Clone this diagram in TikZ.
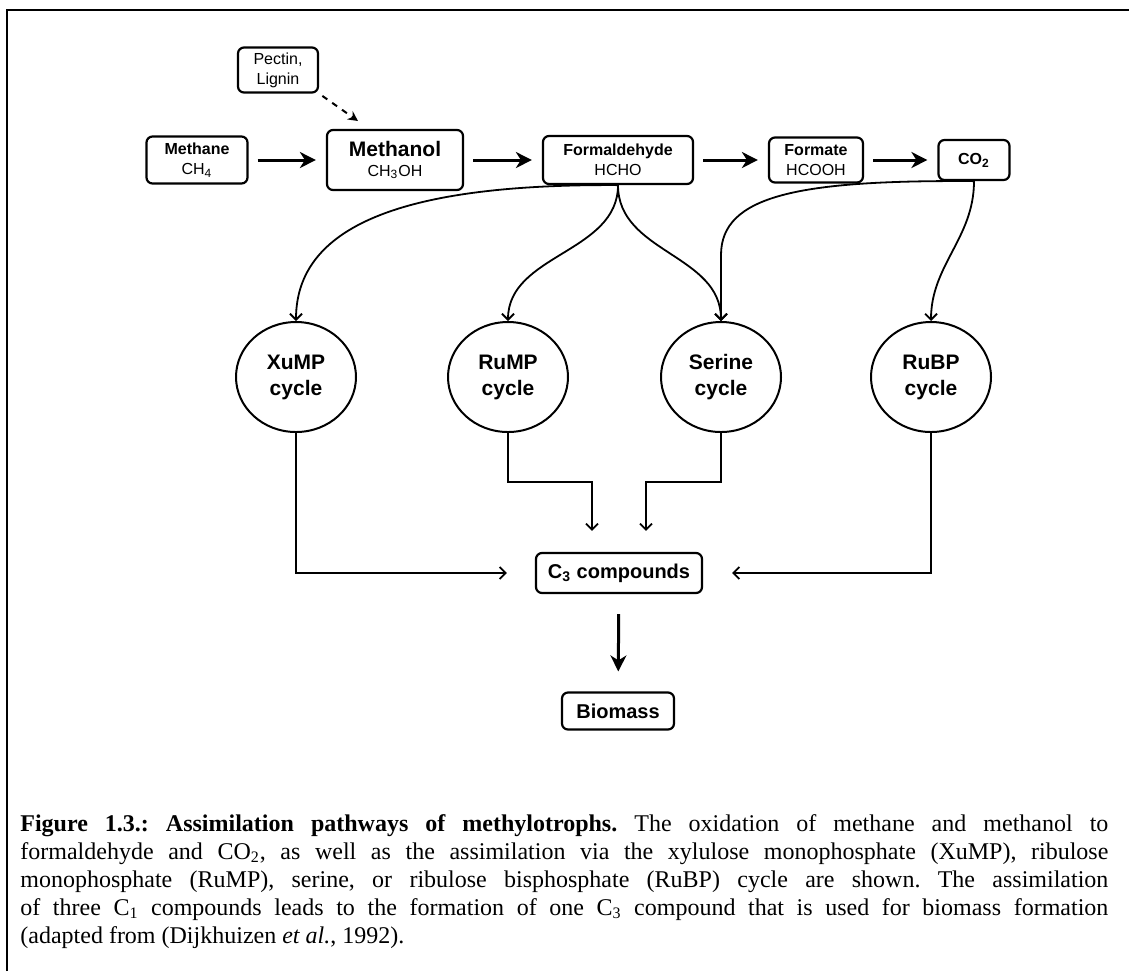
\documentclass[tikz,border=0pt]{standalone}
\usepackage{fontspec}
\setmainfont{Liberation Serif}
\setsansfont{Liberation Sans}
\usetikzlibrary{arrows.meta,shapes.geometric}

\begin{document}
\begin{tikzpicture}[x=0.5pt,y=-0.5pt,
    box/.style={draw,rounded corners=3pt,line width=1.1pt,align=center,inner sep=0pt,
        font=\sffamily\fontsize{8}{10}\selectfont},
    cyc/.style={draw,ellipse,line width=1pt,minimum width=60pt,minimum height=55pt,
        inner sep=0pt,align=center,font=\sffamily\bfseries\fontsize{10.5}{13}\selectfont},
    bigarrow/.style={line width=1.5pt,-{Stealth[length=8pt,width=8pt,inset=2.5pt]},
        shorten <=4.5pt,shorten >=5pt},
    thinarrow/.style={line width=0.9pt,-{Straight Barb[length=3pt,width=6pt]}},
    dasharrow/.style={line width=1pt,dashed,-{Stealth[length=5pt,width=5pt]}}]
    \useasboundingbox (0,0) rectangle (1129,971);

    % frame
    \draw[line width=1pt] (7,971) -- (7,10) -- (1129,10);

    % C1 compounds
    \node[box,minimum width=40pt,minimum height=22.5pt] (pectin) at (278,70) {Pectin,\\Lignin};
    \node[box,minimum width=50.5pt,minimum height=23.5pt] (methane) at (197,160) {\textbf{Methane}\\CH\textsubscript{4}};
    \node[box,minimum width=68pt,minimum height=30pt] (methanol) at (395,160)
        {{\fontsize{10.5}{12}\selectfont\bfseries Methanol}\\CH\textsubscript{3}OH};
    \node[box,minimum width=75pt,minimum height=24pt] (formald) at (618,160) {\textbf{Formaldehyde}\\HCHO};
    \node[box,minimum width=47pt,minimum height=22.5pt] (formate) at (816,160) {\textbf{Formate}\\HCOOH};
    \node[box,minimum width=35.5pt,minimum height=20pt] (co2) at (974,160) {\textbf{CO\textsubscript{2}}};
    \coordinate (pl) at (358,121);

    \draw[bigarrow] (methane) -- (methanol);
    \draw[bigarrow] (methanol) -- (formald);
    \draw[bigarrow] (formald) -- (formate);
    \draw[bigarrow] (formate) -- (co2);
    \draw[dasharrow,shorten <=2pt] (pectin.south east) -- (pl);

    % cycles
    \node[cyc] (xump) at (296,377) {XuMP\\cycle};
    \node[cyc] (rump) at (508,377) {RuMP\\cycle};
    \node[cyc] (serine) at (721,377) {Serine\\cycle};
    \node[cyc] (rubp) at (931,377) {RuBP\\cycle};
    \coordinate (sv) at (721,255);

    \draw[thinarrow] (formald.south) .. controls (430,184) and (296,215) .. (xump.north);
    \draw[thinarrow] (formald.south) .. controls (618,253) and (508,254) .. (rump.north);
    \draw[thinarrow] (formald.south) .. controls (618,253) and (721,254) .. (serine.north);
    \draw[thinarrow] (co2.south) .. controls (800,180) and (721,195) .. (sv) -- (serine.north);
    \draw[thinarrow] (co2.south) .. controls (974,238) and (931,265) .. (rubp.north);

    % C3 and biomass
    \node[box,minimum width=83pt,minimum height=20pt,font=\sffamily\bfseries\fontsize{10}{12}\selectfont]
        (c3) at (619,573) {C\textsubscript{3} compounds};
    \node[box,minimum width=56pt,minimum height=18.5pt,font=\sffamily\bfseries\fontsize{10}{12}\selectfont]
        (biomass) at (618,711) {Biomass};
    \coordinate (jr) at (592,482);
    \coordinate (js) at (646,482);

    \draw[thinarrow,shorten >=14pt] (xump.south) |- (c3.west);
    \draw[thinarrow,shorten >=14.5pt] (rubp.south) |- (c3.east);
    \draw[thinarrow,shorten >=10.5pt] (rump.south) |- (jr) -- ([xshift=-13.5pt]c3.north);
    \draw[thinarrow,shorten >=10.5pt] (serine.south) |- (js) -- ([xshift=13.5pt]c3.north);
    \draw[bigarrow,shorten <=10pt,shorten >=10pt] (c3) -- (biomass);

    % caption
    \node[anchor=north west,inner sep=0pt,text width=544pt,align=justify,
        font=\fontsize{12}{14}\selectfont\frenchspacing] (caption) at (20,814)
        {\textbf{Figure 1.3.: Assimilation pathways of methylotrophs.} The oxidation of methane and methanol to\linebreak
        formaldehyde and CO\textsubscript{2}, as well as the assimilation via the xylulose monophosphate (XuMP), ribulose\linebreak
        monophosphate (RuMP), serine, or ribulose bisphosphate (RuBP) cycle are shown. The assimilation\linebreak
        of three C\textsubscript{1} compounds leads to the formation of one C\textsubscript{3} compound that is used for biomass formation\linebreak
        (adapted from (Dijkhuizen \textit{et al.}, 1992).};
\end{tikzpicture}
\end{document}
